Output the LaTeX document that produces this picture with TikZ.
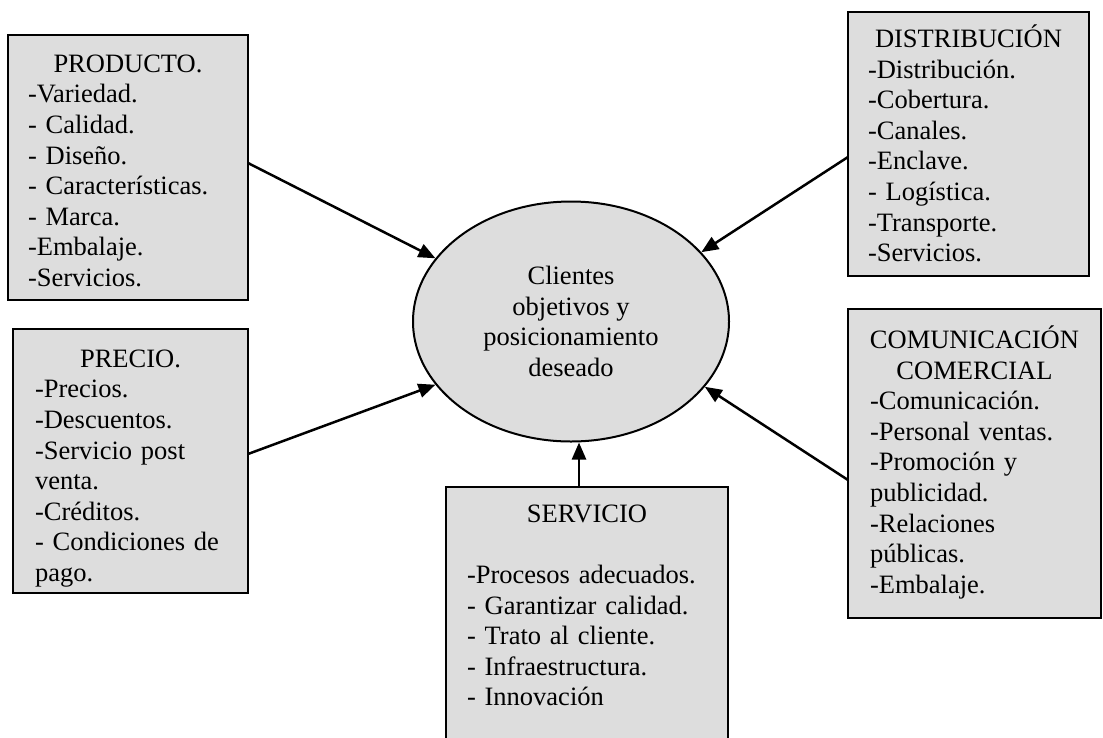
\documentclass[tikz,border=0pt]{standalone}
\usepackage{fontspec}
\setmainfont{Liberation Serif}
\usetikzlibrary{arrows.meta,shapes.geometric}
\definecolor{boxfill}{RGB}{221,221,221}
\begin{document}
\begin{tikzpicture}[x=1pt,y=-1pt,
  box/.style={draw=black, line width=2pt, fill=boxfill, rectangle,
    inner sep=0pt, outer sep=0pt, anchor=north west},
  txt/.style={anchor=north, inner sep=0pt, align=left,
    font=\fontsize{26.5}{30.6}\selectfont},
  arr/.style={line width=2.5pt, -{Triangle[length=17pt,width=14pt]}},
]
\useasboundingbox (0,0) rectangle (1103,737);
\clip (0,0) rectangle (1103,737);
\fill[white] (0,0) rectangle (1103,737);

% central ellipse
\node[ellipse, draw=black, line width=2pt, fill=boxfill, inner sep=0pt,
      minimum width=316pt, minimum height=240pt, align=center,
      font=\fontsize{26.5}{30.6}\selectfont] (clientes) at (571,321.5)
  {Clientes\\objetivos y\\posicionamiento\\deseado};

% surrounding boxes
\node[box, minimum width=240pt, minimum height=265pt] (producto) at (8,35) {};
\node[txt, text width=200pt] (producto-t) at (128,50.6)
  {\strut\makebox[\linewidth]{PRODUCTO.}\\-Variedad.\\- Calidad.\\- Diseño.\\
   - Características.\\- Marca.\\-Embalaje.\\-Servicios.};

\node[box, minimum width=241pt, minimum height=264pt] (distribucion) at (848,12) {};
\node[txt, text width=201pt] (distribucion-t) at (968.5,24.6)
  {\strut\makebox[\linewidth]{DISTRIBUCIÓN}\\-Distribución.\\-Cobertura.\\-Canales.\\
   -Enclave.\\- Logística.\\-Transporte.\\-Servicios.};

\node[box, minimum width=235pt, minimum height=264pt] (precio) at (13,329) {};
\node[txt, text width=191pt] (precio-t) at (130.5,345.6)
  {\strut\makebox[\linewidth]{PRECIO.}\\-Precios.\\-Descuentos.\\-Servicio post\\
   venta.\\-Créditos.\\- Condiciones de\\pago.};

\node[box, minimum width=253pt, minimum height=309pt] (comunicacion) at (848,309) {};
\node[txt, text width=209pt] (comunicacion-t) at (974.5,325.6)
  {\strut\makebox[\linewidth]{COMUNICACIÓN}\\\makebox[\linewidth]{COMERCIAL}\\
   -Comunicación.\\-Personal ventas.\\-Promoción y\\publicidad.\\-Relaciones\\
   públicas.\\-Embalaje.};

\node[box, minimum width=282pt, minimum height=280pt] (servicio) at (446,487) {};
\node[txt, text width=240pt] (servicio-t) at (587,500.6)
  {\strut\makebox[\linewidth]{SERVICIO}\\[30.6pt]-Procesos adecuados.\\
   - Garantizar calidad.\\- Trato al cliente.\\- Infraestructura.\\- Innovación};

% connectors into the ellipse
\draw[arr] ([yshift=4.5pt]producto.east) -- (clientes.155);
\draw[arr] ([yshift=7pt]precio.east) -- (clientes.205);
\draw[arr] ([yshift=-13pt]distribucion.west) -- (clientes.28);
\draw[arr] ([yshift=-16.5pt]comunicacion.west) -- (clientes.-26);
\draw[arr] ([xshift=-8pt]servicio.north) -- ([xshift=-8pt]servicio.north |- clientes.south);
\end{tikzpicture}
\end{document}
